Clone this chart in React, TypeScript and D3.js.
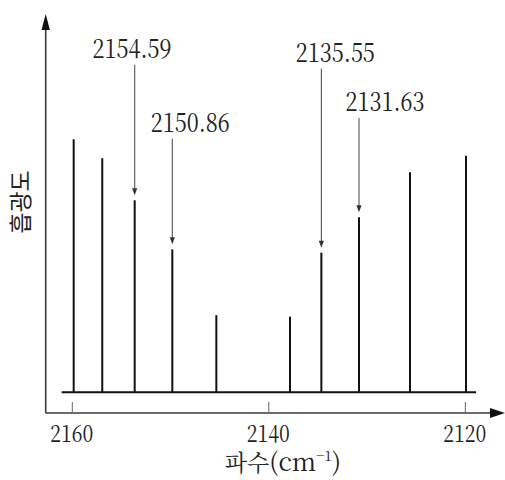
import React, { useEffect, useRef } from 'react';
import * as d3 from 'd3';

// wavenumbers (cm^-1) and relative absorbance of each line
const wavenumbers = [2159.86, 2156.95, 2153.65, 2149.82, 2145.34, 2137.84, 2134.65, 2130.82, 2125.63, 2119.93];
const intensities = [100, 92.5, 75.9, 56.5, 30.5, 29.9, 55.2, 69.2, 87, 93.5];

// labelled lines (index into the arrays above) and their labels
const labelIndex = [2, 3, 6, 7];
const labelText = ['2154.59', '2150.86', '2135.55', '2131.63'];

const tickValues = [2160, 2140, 2120];
const xTitle = '파수';
const yTitle = '흡광도';

const W = 505;
const H = 480;

// layout of annotation labels (text centre offset from arrow, baseline y)
const labelLayout = [
  { dx: -2.6, base: 57.7 },
  { dx: 18, base: 131.7 },
  { dx: 14, base: 61.7 },
  { dx: 26, base: 111 },
];

const serif = "'Noto Serif CJK KR', 'DejaVu Serif', serif";
const sans = "'Noto Sans CJK KR', sans-serif";

export default function App() {
  const svgRef = useRef<SVGSVGElement>(null);

  useEffect(() => {
    const svg = d3.select(svgRef.current);
    svg.selectAll('*').remove();

    const x = d3.scaleLinear().domain([2160, 2120]).range([72.3, 465.3]);
    const y = d3.scaleLinear().domain([0, 100]).range([392.3, 139.3]);

    const axisY = 413;
    const axisX = 45.7;
    const axisCol = '#3a3a3a';

    // axes
    svg.append('line')
      .attr('x1', axisX).attr('x2', axisX)
      .attr('y1', axisY).attr('y2', 28)
      .attr('stroke', axisCol).attr('stroke-width', 1.6);
    svg.append('path')
      .attr('d', `M${axisX},14 L${axisX - 4.2},30 L${axisX + 4.2},30 Z`)
      .attr('fill', '#111');

    svg.append('line')
      .attr('x1', axisX).attr('x2', 492)
      .attr('y1', axisY).attr('y2', axisY)
      .attr('stroke', axisCol).attr('stroke-width', 1.6);
    svg.append('path')
      .attr('d', `M505,${axisY} L490,${axisY - 5} L490,${axisY + 5} Z`)
      .attr('fill', '#111');

    // ticks
    svg.selectAll('.tick')
      .data(tickValues)
      .join('line')
      .attr('class', 'tick')
      .attr('x1', d => x(d)).attr('x2', d => x(d))
      .attr('y1', axisY - 11).attr('y2', axisY)
      .attr('stroke', '#666').attr('stroke-width', 1);

    svg.selectAll('.tick-label')
      .data(tickValues)
      .join('text')
      .attr('class', 'tick-label')
      .attr('x', d => x(d) - 0.5)
      .attr('y', 442)
      .attr('text-anchor', 'middle')
      .style('font-family', serif)
      .style('font-size', '24px')
      .attr('textLength', 43)
      .attr('lengthAdjust', 'spacingAndGlyphs')
      .attr('fill', '#222')
      .text(d => d);

    // baseline of spectrum
    svg.append('line')
      .attr('x1', x(2161.08)).attr('x2', x(2118.9))
      .attr('y1', y(0)).attr('y2', y(0))
      .attr('stroke', '#111').attr('stroke-width', 2);

    // spectral lines
    svg.selectAll('.peak')
      .data(wavenumbers.map((w, i) => ({ w, v: intensities[i] })))
      .join('line')
      .attr('class', 'peak')
      .attr('x1', d => x(d.w)).attr('x2', d => x(d.w))
      .attr('y1', y(0)).attr('y2', d => y(d.v))
      .attr('stroke', '#111').attr('stroke-width', 2);

    // annotations
    const ann = labelIndex.map((idx, i) => ({
      x: x(wavenumbers[idx]),
      top: y(intensities[idx]),
      text: labelText[i],
      ...labelLayout[i],
    }));

    svg.selectAll('.ann-line')
      .data(ann)
      .join('line')
      .attr('class', 'ann-line')
      .attr('x1', d => d.x).attr('x2', d => d.x)
      .attr('y1', d => d.base + 7).attr('y2', d => d.top - 10)
      .attr('stroke', '#555').attr('stroke-width', 1.1);

    svg.selectAll('.ann-head')
      .data(ann)
      .join('path')
      .attr('class', 'ann-head')
      .attr('d', d => `M${d.x - 2.6},${d.top - 12} L${d.x + 2.6},${d.top - 12} L${d.x},${d.top - 5} Z`)
      .attr('fill', '#333');

    svg.selectAll('.ann-text')
      .data(ann)
      .join('text')
      .attr('class', 'ann-text')
      .attr('x', d => d.x + d.dx)
      .attr('y', d => d.base)
      .attr('text-anchor', 'middle')
      .style('font-family', serif)
      .style('font-size', '27px')
      .attr('textLength', 79)
      .attr('lengthAdjust', 'spacingAndGlyphs')
      .attr('fill', '#222')
      .text(d => d.text);

    // axis titles
    svg.append('text')
      .attr('transform', `translate(29,202) rotate(-90)`)
      .attr('text-anchor', 'middle')
      .style('font-family', sans)
      .style('font-size', '23px')
      .attr('fill', '#222')
      .text(yTitle);

    const xt = svg.append('text')
      .attr('x', 283)
      .attr('y', 471)
      .attr('text-anchor', 'middle')
      .attr('fill', '#222')
      .style('font-family', serif);
    xt.append('tspan')
      .style('font-size', '23px')
      .text(xTitle);
    xt.append('tspan')
      .style('font-size', '25px')
      .text('(cm');
    xt.append('tspan')
      .style('font-size', '14px')
      .attr('dy', -10)
      .text('−1');
    xt.append('tspan')
      .style('font-size', '25px')
      .attr('dy', 10)
      .text(')');
  }, []);

  return (
    <svg
      ref={svgRef}
      width={W}
      height={H}
      style={{ position: 'absolute', left: 0, top: 0, background: '#fff' }}
    />
  );
}
